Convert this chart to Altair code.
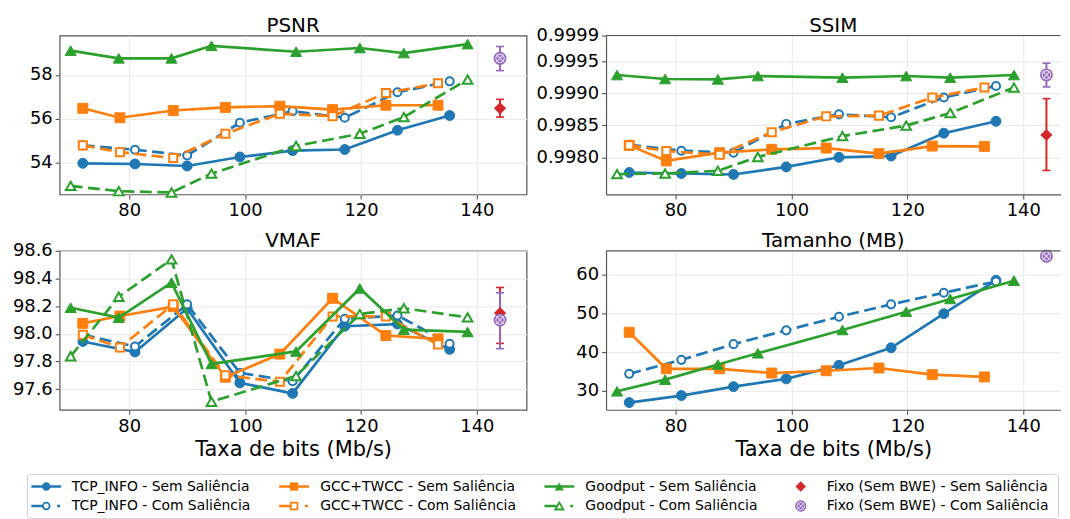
import altair as alt
import pandas as pd

FONT = "DejaVu Sans"
FRAME = "#555555"

# ---------------- data ----------------
TCP_X = [72.0, 81.0, 90.0, 99.1, 108.2, 117.2, 126.3, 135.3]
GCC_X = [72.0, 78.4, 87.6, 96.6, 106.0, 115.1, 124.3, 133.3]
GOOD_X = [69.9, 78.2, 87.3, 94.2, 108.8, 119.8, 127.4, 138.4]
FIXO_X = 144.0

PSNR_TCP_SEM = [53.97, 53.94, 53.85, 54.26, 54.55, 54.60, 55.48, 56.15]
PSNR_TCP_COM = [54.79, 54.59, 54.33, 55.82, 56.35, 56.05, 57.21, 57.71]
PSNR_GCC_SEM = [56.48, 56.05, 56.38, 56.52, 56.58, 56.42, 56.62, 56.62]
PSNR_GCC_COM = [54.79, 54.48, 54.21, 55.32, 56.23, 56.12, 57.18, 57.62]
PSNR_GOOD_SEM = [59.11, 58.76, 58.76, 59.33, 59.06, 59.23, 59.00, 59.41]
PSNR_GOOD_COM = [52.94, 52.70, 52.64, 53.50, 54.76, 55.32, 56.08, 57.79]
PSNR_FIXO_SEM = [56.48, 56.08, 56.89]   # mean, low, high
PSNR_FIXO_COM = [58.76, 58.20, 59.30]

SSIM_TCP_SEM = [0.997763, 0.997747, 0.997732, 0.997850, 0.998000, 0.998020, 0.998376, 0.998562]
SSIM_TCP_COM = [0.998196, 0.998103, 0.998072, 0.998521, 0.998670, 0.998624, 0.998933, 0.999113]
SSIM_GCC_SEM = [0.998186, 0.997943, 0.998072, 0.998124, 0.998144, 0.998057, 0.998175, 0.998170]
SSIM_GCC_COM = [0.998186, 0.998098, 0.998041, 0.998392, 0.998639, 0.998650, 0.998933, 0.999088]
SSIM_GOOD_SEM = [0.999284, 0.999222, 0.999216, 0.999268, 0.999242, 0.999268, 0.999242, 0.999284]
SSIM_GOOD_COM = [0.997737, 0.997747, 0.997789, 0.998005, 0.998330, 0.998495, 0.998691, 0.999088]
SSIM_FIXO_SEM = [0.998348, 0.997795, 0.998915]
SSIM_FIXO_COM = [0.999286, 0.999098, 0.999468]

VMAF_TCP_SEM = [97.945, 97.869, 98.184, 97.646, 97.570, 98.055, 98.071, 97.888]
VMAF_TCP_COM = [97.993, 97.909, 98.213, 97.718, 97.658, 98.109, 98.133, 97.929]
VMAF_GCC_SEM = [98.076, 98.129, 98.196, 97.687, 97.854, 98.257, 97.988, 97.964]
VMAF_GCC_COM = [97.993, 97.902, 98.213, 97.700, 97.654, 98.126, 98.126, 97.924]
VMAF_GOOD_SEM = [98.189, 98.117, 98.370, 97.783, 97.873, 98.328, 98.031, 98.014]
VMAF_GOOD_COM = [97.838, 98.268, 98.538, 97.510, 97.696, 98.143, 98.185, 98.119]
VMAF_FIXO_SEM = [98.150, 97.931, 98.335]
VMAF_FIXO_COM = [98.100, 97.893, 98.297]

SIZE_TCP_SEM = [27.0, 28.8, 31.1, 33.1, 36.6, 41.1, 49.9, 58.5]
SIZE_TCP_COM = [34.4, 38.0, 42.05, 45.6, 49.1, 52.3, 55.3, 58.2]
SIZE_GCC_SEM = [45.1, 35.7, 35.7, 34.6, 35.2, 35.9, 34.2, 33.6]
SIZE_GOOD_SEM = [29.9, 32.9, 36.8, 39.7, 45.7, 50.4, 53.7, 58.4]
SIZE_FIXO_SEM = [64.7]
SIZE_FIXO_COM = [64.7]

X_TICKS = [80, 100, 120, 140]
PSNR_TICKS = [54, 56, 58]
SSIM_TICKS = [0.998, 0.9985, 0.999, 0.9995, 0.9999]
VMAF_TICKS = [97.6, 97.8, 98.0, 98.2, 98.4, 98.6]
SIZE_TICKS = [30, 40, 50, 60]

LABELS = {
    "tcp_sem": "TCP_INFO - Sem Saliência",
    "tcp_com": "TCP_INFO - Com Saliência",
    "gcc_sem": "GCC+TWCC - Sem Saliência",
    "gcc_com": "GCC+TWCC - Com Saliência",
    "good_sem": "Goodput - Sem Saliência",
    "good_com": "Goodput - Com Saliência",
    "fixo_sem": "Fixo (Sem BWE) - Sem Saliência",
    "fixo_com": "Fixo (Sem BWE) - Com Saliência",
}

# ---------------- styles ----------------
STYLE = {
    "tcp_sem": ("#1f77b4", "circle", False),
    "tcp_com": ("#1f77b4", "circle", True),
    "gcc_sem": ("#ff7f0e", "square", False),
    "gcc_com": ("#ff7f0e", "square", True),
    "good_sem": ("#2ca02c", "triangle-up", False),
    "good_com": ("#2ca02c", "triangle-up", True),
}
XS = {"tcp": TCP_X, "gcc": GCC_X, "good": GOOD_X}
MSIZE = {"circle": 100, "square": 100, "triangle-up": 125}
MSIZE_OPEN = {"circle": 66, "square": 66, "triangle-up": 95}
RED = "#d62728"
PURPLE = "#9467bd"
LIGHT = "#e4d8f0"
X_PATH = "M-0.7,-0.7L0.7,0.7M-0.7,0.7L0.7,-0.7"

PANELS = {
    "PSNR": dict(series={"tcp_sem": PSNR_TCP_SEM, "tcp_com": PSNR_TCP_COM, "gcc_sem": PSNR_GCC_SEM,
                         "gcc_com": PSNR_GCC_COM, "good_sem": PSNR_GOOD_SEM, "good_com": PSNR_GOOD_COM},
                 fixo_sem=PSNR_FIXO_SEM, fixo_com=PSNR_FIXO_COM,
                 ydom=[52.55, 59.8], ticks=PSNR_TICKS, fmt="d"),
    "SSIM": dict(series={"tcp_sem": SSIM_TCP_SEM, "tcp_com": SSIM_TCP_COM, "gcc_sem": SSIM_GCC_SEM,
                         "gcc_com": SSIM_GCC_COM, "good_sem": SSIM_GOOD_SEM, "good_com": SSIM_GOOD_COM},
                 fixo_sem=SSIM_FIXO_SEM, fixo_com=SSIM_FIXO_COM,
                 ydom=[0.99742, 0.9999], ticks=SSIM_TICKS, fmt=".4f"),
    "VMAF": dict(series={"tcp_sem": VMAF_TCP_SEM, "tcp_com": VMAF_TCP_COM, "gcc_sem": VMAF_GCC_SEM,
                         "gcc_com": VMAF_GCC_COM, "good_sem": VMAF_GOOD_SEM, "good_com": VMAF_GOOD_COM},
                 fixo_sem=VMAF_FIXO_SEM, fixo_com=VMAF_FIXO_COM,
                 ydom=[97.452, 98.6], ticks=VMAF_TICKS, fmt=".1f"),
    "Tamanho (MB)": dict(series={"tcp_sem": SIZE_TCP_SEM, "tcp_com": SIZE_TCP_COM,
                                 "gcc_sem": SIZE_GCC_SEM, "good_sem": SIZE_GOOD_SEM},
                         fixo_sem=SIZE_FIXO_SEM, fixo_com=SIZE_FIXO_COM,
                         ydom=[25.15, 66.1], ticks=SIZE_TICKS, fmt="d"),
}

PX_PER_UNIT = 5.833
W_LEFT = 470
W_RIGHT = 457.5
H = 160
X_MIN = 68.0
XDOM_LEFT = [X_MIN, X_MIN + W_LEFT / PX_PER_UNIT]
XDOM_RIGHT = [X_MIN, X_MIN + W_RIGHT / PX_PER_UNIT]
TITLE_GAP = 3.7


def panel(name, right, xtitle):
    p = PANELS[name]
    width = W_RIGHT if right else W_LEFT
    xs = alt.Scale(domain=XDOM_RIGHT if right else XDOM_LEFT, nice=False, zero=False)
    ysc = alt.Scale(domain=p["ydom"], nice=False, zero=False)
    xax = alt.Axis(values=X_TICKS, format="d", title=xtitle, domain=right, grid=True)
    yax = alt.Axis(values=p["ticks"], format=p["fmt"], title=None, domain=right, grid=True)
    X = alt.X("x:Q", scale=xs, axis=xax)
    layers = []
    for key, vals in p["series"].items():
        color, shape, com = STYLE[key]
        d = pd.DataFrame({"x": XS[key.split("_")[0]], "y": vals})
        base = alt.Chart(d).encode(x=X, y=alt.Y("y:Q", scale=ysc, axis=yax))
        if com:
            layers.append(base.mark_line(color=color, strokeWidth=2.7, strokeDash=[12, 5.5]))
            layers.append(base.mark_point(shape=shape, size=MSIZE_OPEN[shape], filled=True, fill="white",
                                          stroke=color, strokeWidth=2, opacity=1))
        else:
            layers.append(base.mark_line(color=color, strokeWidth=2.7))
            layers.append(base.mark_point(shape=shape, size=MSIZE[shape], filled=True, color=color,
                                          stroke=color, strokeWidth=1, opacity=1))
    for key, color in (("fixo_sem", RED), ("fixo_com", PURPLE)):
        v = p[key]
        if len(v) == 3:
            eb = pd.DataFrame({"x": [FIXO_X], "y": [v[0]], "lo": [v[1]], "hi": [v[2]]})
            caps = pd.DataFrame({"x": [FIXO_X, FIXO_X], "yc": [v[1], v[2]]})
            layers.append(alt.Chart(eb).mark_rule(color=color, strokeWidth=2).encode(
                x=X, y=alt.Y("lo:Q", scale=ysc, axis=yax), y2="hi:Q"))
            layers.append(alt.Chart(caps).mark_tick(orient="horizontal", size=8, thickness=1.6, color=color,
                                                    opacity=1).encode(x=X, y=alt.Y("yc:Q", scale=ysc, axis=yax)))
    for key in ("fixo_sem", "fixo_com"):
        v = p[key]
        d = pd.DataFrame({"x": [FIXO_X], "y": [v[0]]})
        base = alt.Chart(d).encode(x=X, y=alt.Y("y:Q", scale=ysc, axis=yax))
        if key == "fixo_sem":
            layers.append(base.mark_point(shape="diamond", size=150, filled=True, color=RED, opacity=1))
        else:
            layers.append(base.mark_point(shape="circle", size=170, filled=True, color=PURPLE, opacity=1))
            layers.append(base.mark_point(shape="circle", size=72, filled=False, stroke=LIGHT,
                                          strokeWidth=1.1, opacity=1))
            layers.append(base.mark_point(shape=X_PATH, size=110, filled=False, stroke=LIGHT,
                                          strokeWidth=1.1, opacity=1))
    # panel title, as a text mark centred over the plot area
    layers.append(alt.Chart(pd.DataFrame({"t": [name]})).mark_text(
        font=FONT, fontSize=20, color="black", align="center", baseline="alphabetic"
    ).encode(x=alt.value(width / 2), y=alt.value(-TITLE_GAP), text="t:N"))
    props = dict(width=width, height=H)
    if right:
        top = alt.Chart(pd.DataFrame({"k": [0]})).mark_rule(color=FRAME, strokeWidth=1.2).encode(
            x=alt.value(0), x2=alt.value(width), y=alt.value(0))
        layers.append(top)
        props["view"] = alt.ViewBackground(stroke="transparent")
    return alt.layer(*layers).properties(**props)


# ---------------- legend ----------------
LEG_W = W_LEFT          # nominal cell width; items extend to the right of it
LEG_H = 53.0
LEG_COL_CX = [-13.5, 236.0, 503.0, 746.0]
LEG_TEXT_X = [12.2, 262.2, 529.2, 772.3]
LEG_ROW_Y = [20.6, 40.2]
LEG_BOX = [-32.5, 1005.5, 8.3, 53.0]
LEG_ORDER = [["tcp_sem", "tcp_com"], ["gcc_sem", "gcc_com"], ["good_sem", "good_com"], ["fixo_sem", "fixo_com"]]


def legend():
    lx = alt.Scale(domain=[0, LEG_W], nice=False, zero=False)
    ly = alt.Scale(domain=[0, LEG_H], nice=False, zero=False, reverse=True)
    LX = lambda f: alt.X(f, scale=lx, axis=None)
    LY = lambda f: alt.Y(f, scale=ly, axis=None)
    layers = []
    box = pd.DataFrame({"x": [LEG_BOX[0]], "x2": [LEG_BOX[1]], "y": [LEG_BOX[2]], "y2": [LEG_BOX[3]]})
    layers.append(alt.Chart(box).mark_rect(fill="white", stroke="#cccccc", strokeWidth=1, cornerRadius=3).encode(
        x=LX("x:Q"), x2="x2:Q", y=LY("y:Q"), y2="y2:Q"))
    for ci, col in enumerate(LEG_ORDER):
        for ri, key in enumerate(col):
            cx = LEG_COL_CX[ci]
            cy = LEG_ROW_Y[ri]
            pt = pd.DataFrame({"x": [cx], "y": [cy]})
            if key in STYLE:
                color, shape, com = STYLE[key]
                ln = pd.DataFrame({"x": [cx - 15], "x2": [cx + 15], "y": [cy]})
                dash = [12, 14, 3, 10] if com else [1, 0]
                layers.append(alt.Chart(ln).mark_rule(color=color, strokeWidth=2.6, strokeDash=dash).encode(
                    x=LX("x:Q"), x2="x2:Q", y=LY("y:Q")))
                if com:
                    layers.append(alt.Chart(pt).mark_point(shape=shape, size=MSIZE_OPEN[shape] * 0.7, filled=True,
                                                           fill="white", stroke=color, strokeWidth=1.8,
                                                           opacity=1).encode(x=LX("x:Q"), y=LY("y:Q")))
                else:
                    layers.append(alt.Chart(pt).mark_point(shape=shape, size=MSIZE[shape] * 0.7, filled=True,
                                                           color=color, opacity=1).encode(x=LX("x:Q"), y=LY("y:Q")))
            elif key == "fixo_sem":
                layers.append(alt.Chart(pt).mark_point(shape="diamond", size=110, filled=True, color=RED,
                                                       opacity=1).encode(x=LX("x:Q"), y=LY("y:Q")))
            else:
                layers.append(alt.Chart(pt).mark_point(shape="circle", size=130, filled=True, color=PURPLE,
                                                       opacity=1).encode(x=LX("x:Q"), y=LY("y:Q")))
                layers.append(alt.Chart(pt).mark_point(shape="circle", size=55, filled=False, stroke=LIGHT,
                                                       strokeWidth=1, opacity=1).encode(x=LX("x:Q"), y=LY("y:Q")))
                layers.append(alt.Chart(pt).mark_point(shape=X_PATH, size=85, filled=False, stroke=LIGHT,
                                                       strokeWidth=1, opacity=1).encode(x=LX("x:Q"), y=LY("y:Q")))
            tx = pd.DataFrame({"x": [LEG_TEXT_X[ci]], "y": [cy], "t": [LABELS[key]]})
            layers.append(alt.Chart(tx).mark_text(align="left", baseline="middle", font=FONT, fontSize=14,
                                                  color="black").encode(x=LX("x:Q"), y=LY("y:Q"), text="t:N"))
    return alt.layer(*layers).properties(width=LEG_W, height=LEG_H,
                                         view=alt.ViewBackground(stroke="transparent"))


chart = alt.concat(
    panel("PSNR", False, None),
    panel("SSIM", True, None),
    panel("VMAF", False, "Taxa de bits (Mb/s)"),
    panel("Tamanho (MB)", True, "Taxa de bits (Mb/s)"),
    legend(),
    columns=2, spacing={"row": 56.7, "column": 80}, bounds="flush",
).properties(
    padding={"left": 3, "top": 5, "right": 0, "bottom": 0}
).configure_view(
    stroke=FRAME, strokeWidth=1.2
).configure_axis(
    labelFont=FONT, labelFontSize=18, labelColor="black", labelPadding=3, labelFlush=False,
    labelOverlap=False, tickColor=FRAME, tickSize=4.5, tickWidth=1.1,
    domainColor=FRAME, domainWidth=1.2,
    gridColor="#e8e8e8", gridWidth=1,
    titleFont=FONT, titleFontSize=21, titleFontWeight="normal", titleColor="black", titlePadding=4
)

chart.save("out.html", embed_options={"renderer": "svg", "actions": False})
